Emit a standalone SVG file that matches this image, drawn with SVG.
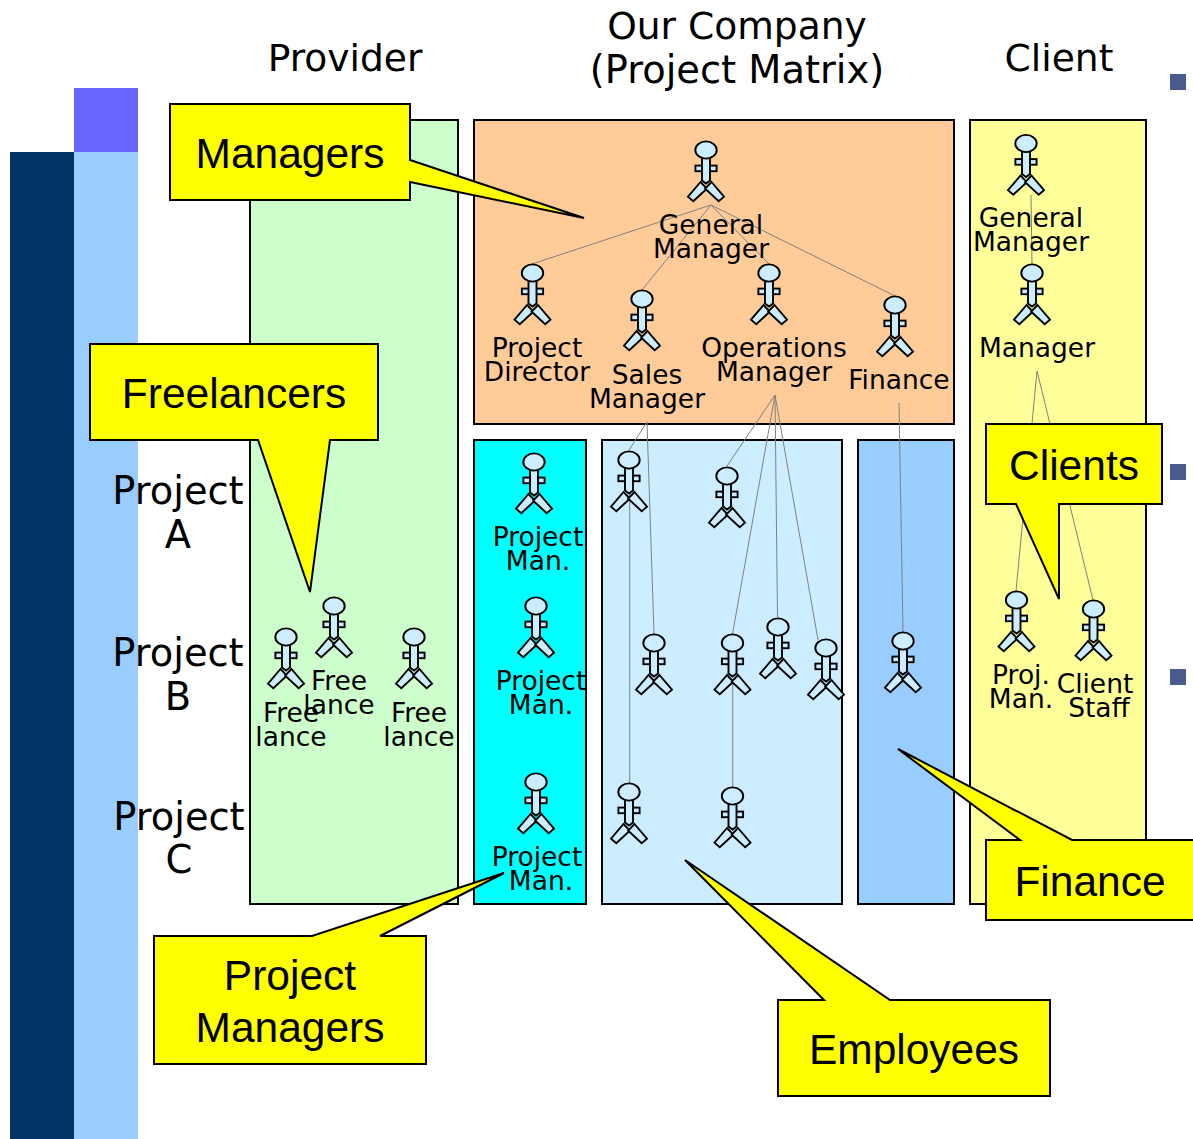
<svg xmlns="http://www.w3.org/2000/svg" xmlns:xlink="http://www.w3.org/1999/xlink" width="1193" height="1139" viewBox="0 0 1193 1139">
<style>
.p{stroke:#000;stroke-width:2}
.c{fill:#ff0;stroke:#000;stroke-width:2}
.l{font-family:"DejaVu Sans",sans-serif;font-size:26.5px;fill:#000;text-anchor:middle}
.h{font-family:"DejaVu Sans",sans-serif;font-size:38.4px;fill:#000;text-anchor:middle}
.h2{font-family:"DejaVu Sans",sans-serif;font-size:37.6px;fill:#000;text-anchor:middle}
.t{font-family:"Liberation Sans",Arial,sans-serif;font-size:42.5px;fill:#000;text-anchor:middle}
.k{stroke:#808080;stroke-width:1;fill:none}
.a{fill:#ccecff;stroke:#000;stroke-width:1.9;stroke-linejoin:miter}
</style>
<defs>
<g id="actor">
<rect class="a" x="-10.6" y="15.6" width="21.2" height="5.6"/>
<polygon class="a" points="-5.5,32 -18,46.7 -12.7,51.2 0.8,38.6"/>
<polygon class="a" points="5.5,32 18,46.7 12.7,51.2 -0.8,38.6"/>
<polygon class="a" points="-4,8 4,8 4,30.5 0,33.5 -4,30.5"/>
<ellipse class="a" cx="0" cy="0" rx="10.7" ry="8.6"/>
</g>
</defs>
<g id="background">
<rect x="10" y="152" width="64" height="987" fill="#003366"/>
<rect x="74" y="152" width="64" height="987" fill="#99ccff"/>
<rect x="74" y="88" width="64" height="64" fill="#6666ff"/>
<rect x="1170" y="74" width="16" height="16" fill="#4a5a8f"/>
<rect x="1170" y="464" width="16" height="16" fill="#4a5a8f"/>
<rect x="1170" y="669" width="16" height="16" fill="#4a5a8f"/>
</g>
<g id="panels">
<rect class="p" x="250" y="120" width="208" height="784" fill="#ccffcc"/>
<rect class="p" x="474" y="120" width="480" height="304" fill="#ffcc99"/>
<rect class="p" x="474" y="440" width="112" height="464" fill="#00ffff"/>
<rect class="p" x="602" y="440" width="240" height="464" fill="#ccecff"/>
<rect class="p" x="858" y="440" width="96" height="464" fill="#99ccff"/>
<rect class="p" x="970" y="120" width="176" height="784" fill="#ffff99"/>
</g>
<g id="headers">
<text class="h2" x="345" y="71">Provider</text>
<text class="h2" x="737" y="39">Our Company</text>
<text class="h" x="737" y="83">(Project Matrix)</text>
<text class="h2" x="1059" y="71">Client</text>
<text class="h" x="178" y="503.5">Project</text>
<text class="h" x="178" y="547.5">A</text>
<text class="h" x="178" y="665.5">Project</text>
<text class="h" x="178" y="709.5">B</text>
<text class="h" x="179" y="829.5">Project</text>
<text class="h" x="179" y="873">C</text>
</g>
<g id="connectors">
<path class="k" d="M711 205L532 264M711 205L642 290M711 205L769 264M711 205L895 296"/>
<path class="k" d="M775 395L727 466M775 395L732.5 634M775 395L777.5 617M775 395L818 640M899 403L903 632"/>
<path class="k" d="M647 422L629 450M647 422L654 634M629.7 490L629.7 783M732.7 680L732.7 787"/>
<path class="k" d="M1031 195L1032 264M1037 371L1016 591M1037 371L1093 600"/>
</g>
<g id="n-general-manager"><use xlink:href="#actor" href="#actor" x="706" y="150"/><text class="l" x="711" y="234">General</text><text class="l" x="711" y="258">Manager</text></g>
<g id="n-project-director"><use href="#actor" x="532.5" y="273"/><text class="l" x="537" y="357">Project</text><text class="l" x="537" y="381">Director</text></g>
<g id="n-sales-manager"><use href="#actor" x="642" y="299"/><text class="l" x="647" y="384">Sales</text><text class="l" x="647" y="408">Manager</text></g>
<g id="n-operations-manager"><use href="#actor" x="769" y="273"/><text class="l" x="774" y="357">Operations</text><text class="l" x="774" y="381">Manager</text></g>
<g id="n-finance"><use href="#actor" x="895" y="305"/><text class="l" x="899" y="389">Finance</text></g>
<g id="n-client-gm"><use href="#actor" x="1026" y="143.5"/><text class="l" x="1031" y="227">General</text><text class="l" x="1031" y="251">Manager</text></g>
<g id="n-client-manager"><use href="#actor" x="1032" y="273"/><text class="l" x="1037" y="357">Manager</text></g>
<g id="n-client-pm"><use href="#actor" x="1016.5" y="600"/><text class="l" x="1021" y="684">Proj.</text><text class="l" x="1021" y="708">Man.</text></g>
<g id="n-client-staff"><use href="#actor" x="1093.5" y="609"/><text class="l" x="1095" y="693">Client</text><text class="l" x="1099" y="717">Staff</text></g>
<g id="n-free1"><use href="#actor" x="286" y="637"/><text class="l" x="291" y="722">Free</text><text class="l" x="291" y="746">lance</text></g>
<g id="n-free2"><use href="#actor" x="334" y="606"/><text class="l" x="339" y="690">Free</text><text class="l" x="339" y="714">lance</text></g>
<g id="n-free3"><use href="#actor" x="414" y="637"/><text class="l" x="419" y="722">Free</text><text class="l" x="419" y="746">lance</text></g>
<g id="n-pm-a"><use href="#actor" x="534" y="462"/><text class="l" x="538" y="546">Project</text><text class="l" x="538" y="570">Man.</text></g>
<g id="n-pm-b"><use href="#actor" x="536" y="606"/><text class="l" x="541" y="690">Project</text><text class="l" x="541" y="714">Man.</text></g>
<g id="n-pm-c"><use href="#actor" x="536" y="782"/><text class="l" x="537" y="866">Project</text><text class="l" x="541" y="890">Man.</text></g>
<g id="n-e1"><use href="#actor" x="629" y="460"/></g>
<g id="n-e2"><use href="#actor" x="727" y="476"/></g>
<g id="n-e3"><use href="#actor" x="654" y="643"/></g>
<g id="n-e4"><use href="#actor" x="732.5" y="643"/></g>
<g id="n-e5"><use href="#actor" x="778" y="627"/></g>
<g id="n-e6"><use href="#actor" x="826" y="648"/></g>
<g id="n-e7"><use href="#actor" x="903" y="641"/></g>
<g id="n-e8"><use href="#actor" x="629" y="792"/></g>
<g id="n-e9"><use href="#actor" x="732.5" y="796"/></g>
<g id="callout-managers"><polygon class="c" points="170,104 410,104 410,160 584,218 410,182 410,200 170,200"/><text class="t" x="290" y="168">Managers</text></g>
<g id="callout-freelancers"><polygon class="c" points="90,344 378,344 378,440 330,440 310,592 258,440 90,440"/><text class="t" x="234" y="408">Freelancers</text></g>
<g id="callout-clients"><polygon class="c" points="986,424 1162,424 1162,504 1059,504 1059,599 1016,504 986,504"/><text class="t" x="1074" y="480">Clients</text></g>
<g id="callout-finance"><polygon class="c" points="986,840 1020,840 898,749 1072,840 1200,840 1200,920 986,920"/><text class="t" x="1090" y="896">Finance</text></g>
<g id="callout-employees"><polygon class="c" points="778,1000 824,1000 685,860 890,1000 1050,1000 1050,1096 778,1096"/><text class="t" x="914" y="1064">Employees</text></g>
<g id="callout-pm"><polygon class="c" points="154,936 312,936 504,873 380,936 426,936 426,1064 154,1064"/><text class="t" x="290" y="990">Project</text><text class="t" x="290" y="1042">Managers</text></g>
</svg>
